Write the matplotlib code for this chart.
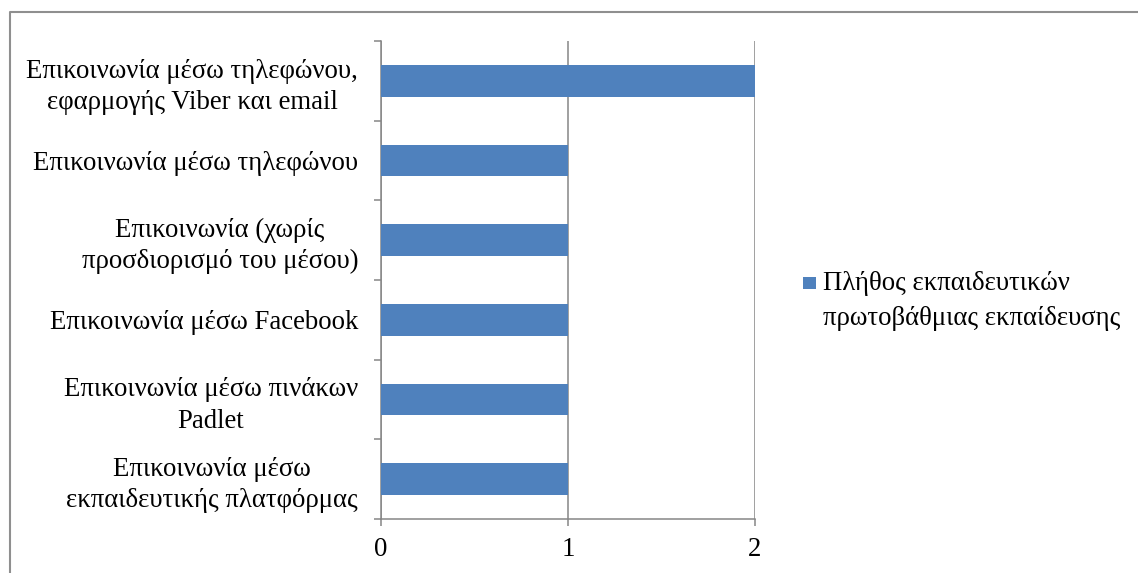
import numpy as np
import matplotlib
matplotlib.use('Agg')
import matplotlib.pyplot as plt
from matplotlib.patches import Rectangle
from matplotlib.lines import Line2D

# Data (Excel order: first category is drawn at the bottom)
categories = ['Επικοινωνία μέσω\nεκπαιδευτικής πλατφόρμας',
              'Επικοινωνία μέσω πινάκων\nPadlet',
              'Επικοινωνία μέσω Facebook',
              'Επικοινωνία (χωρίς\nπροσδιορισμό του μέσου)',
              'Επικοινωνία μέσω τηλεφώνου',
              'Επικοινωνία μέσω τηλεφώνου,\nεφαρμογής Viber και email']
counts      = [1, 1, 1, 1, 1, 2]
series_name = 'Πλήθος εκπαιδευτικών\nπρωτοβάθμιας εκπαίδευσης'
xticks      = [0, 1, 2]

BLUE = '#4F81BD'
GREY = '#868686'
FS   = 19.3

plt.rcParams['font.family'] = ['Liberation Serif', 'DejaVu Serif']

W, H = 1138, 573
fig = plt.figure(figsize=(W/100, H/100), dpi=100)
ax  = fig.add_axes([381/W, 1-519/H, (755-381)/W, (519-41)/H])

pos = np.arange(len(categories))
ax.barh(pos, counts, height=0.4, color=BLUE, zorder=3)

ax.set_xlim(0, 2)
ax.set_ylim(-0.5, len(categories)-0.5)
ax.set_xticks(xticks)
ax.set_xticklabels([str(t) for t in xticks], fontsize=FS)
ax.set_yticks(pos)
ax.set_yticklabels(categories, fontsize=FS, multialignment='center', linespacing=1.32)
ax.set_yticks(np.arange(len(categories)+1)-0.5, minor=True)

ax.tick_params(axis='y', which='major', length=0, pad=16.5)
ax.tick_params(axis='y', which='minor', length=5, width=1.1, color=GREY, direction='out')
ax.tick_params(axis='x', length=5, width=1.1, color=GREY, pad=8)

ax.grid(axis='x', color=GREY, linewidth=1.1, zorder=1)
for s in ['top', 'right']:
    ax.spines[s].set_visible(False)
for s in ['left', 'bottom']:
    ax.spines[s].set_color(GREY)
    ax.spines[s].set_linewidth(1.1)

# legend drawn by hand so the box lines up with the first text line
fig.patches.append(Rectangle((803/W, 1-289/H), 13/W, 12/H, transform=fig.transFigure,
                             facecolor=BLUE, edgecolor='none'))
fig.text(823/W, 1-301/H, series_name, fontsize=FS, va='center', ha='left', linespacing=1.52)

# chart frame (top and left edge visible)
fig.add_artist(Line2D([10/W, 10/W, 1.0], [0.0, 1-12/H, 1-12/H], transform=fig.transFigure,
                      color='#8F8F8F', linewidth=1.5))

plt.savefig('out.png', dpi=100)
